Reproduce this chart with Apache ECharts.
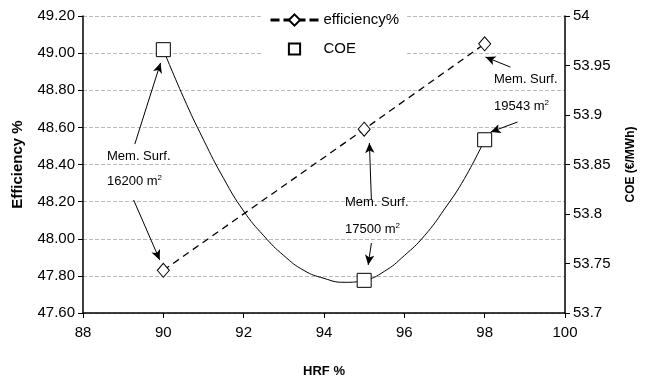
<!DOCTYPE html>
<html>
<head>
<meta charset="utf-8">
<script src="https://cdn.jsdelivr.net/npm/echarts@6/dist/echarts.min.js"></script>
<style>
  html, body { margin: 0; padding: 0; background: #fff; }
  #chart { width: 645px; height: 383px; }
</style>
</head>
<body>
<div id="chart"></div>
<script>
// HRF points and the two measured series
const hrf = [90, 95, 98];
const efficiency = [47.83, 48.59, 49.05];
const coe = [53.966, 53.733, 53.875];

// COE trend curve
const coeCurveX = [90, 90.5, 91, 91.5, 92, 92.5, 93, 93.5, 94, 94.5, 95, 95.5, 96, 96.5, 97, 97.5, 98];
const coeCurveY = [53.966, 53.918, 53.875, 53.836, 53.803, 53.778, 53.758, 53.743, 53.735, 53.731,
                   53.733, 53.742, 53.758, 53.778, 53.805, 53.836, 53.875];

// annotation arrows, [tailX, tailY, headX, headY] in HRF / efficiency units
const arrows = [
  [89.29, 48.51, 89.93, 48.947],
  [89.26, 48.209, 89.91, 47.886],
  [95.18, 47.977, 95.10, 47.859],
  [95.18, 48.209, 95.13, 48.516],
  [98.64, 48.925, 98.02, 48.979],
  [98.82, 48.629, 98.15, 48.575]
];
const notes = ['16200', '17500', '19543'];

const chart = echarts.init(document.getElementById('chart'));
const font = 'Liberation Sans, Arial, sans-serif';

const noteText = (x, y, text) => ({
  type: 'text',
  left: x,
  top: y,
  z: 10,
  style: {
    text: text,
    font: '13px ' + font,
    fill: '#000',
    rich: {
      n: { fontSize: 13, fontFamily: font },
      sup: { fontSize: 8, fontFamily: font, verticalAlign: 'top', padding: [0, 0, 6, 0] }
    }
  }
});

const option = {
  backgroundColor: '#fff',
  animation: false,
  grid: { left: 83, right: 77, top: 16, bottom: 70 },
  legend: {
    orient: 'vertical',
    left: 261,
    top: 7,
    padding: [5, 8],
    backgroundColor: '#fff',
    itemWidth: 48,
    itemHeight: 14,
    itemGap: 13,
    z: 5,
    textStyle: { fontFamily: font, fontSize: 15, lineHeight: 16, color: '#000' },
    data: [
      { name: 'efficiency%', lineStyle: { width: 3, type: [9, 4] } },
      { name: 'COE' }
    ]
  },
  xAxis: {
    type: 'value',
    min: 88,
    max: 100,
    interval: 2,
    name: 'HRF %',
    nameLocation: 'middle',
    nameGap: 52,
    nameTextStyle: { fontFamily: font, fontSize: 13, fontWeight: 'bold', color: '#000' },
    axisLine: { lineStyle: { color: '#000', width: 1.5 } },
    axisTick: { show: true, length: 5, lineStyle: { color: '#000' } },
    axisLabel: { fontFamily: font, fontSize: 15, color: '#000', margin: 12 },
    splitLine: { show: false }
  },
  yAxis: [
    {
      type: 'value',
      min: 47.6,
      max: 49.2,
      interval: 0.2,
      name: 'Efficiency %',
      nameLocation: 'middle',
      nameGap: 58,
      nameTextStyle: { fontFamily: font, fontSize: 15, fontWeight: 'bold', color: '#000' },
      axisLine: { show: true, lineStyle: { color: '#000', width: 1.5 } },
      axisTick: { show: true, length: 5, lineStyle: { color: '#000' } },
      axisLabel: { fontFamily: font, fontSize: 15, color: '#000', formatter: v => v.toFixed(2) },
      splitLine: { show: true, lineStyle: { color: '#bbbbbb', width: 1, type: 'dashed' } }
    },
    {
      type: 'value',
      min: 53.7,
      max: 54,
      interval: 0.05,
      position: 'right',
      name: 'COE (€/MWh)',
      nameLocation: 'middle',
      nameGap: 60,
      nameTextStyle: { fontFamily: font, fontSize: 12, fontWeight: 'bold', color: '#000' },
      axisLine: { show: true, lineStyle: { color: '#000', width: 1.5 } },
      axisTick: { show: true, length: 5, lineStyle: { color: '#000' } },
      axisLabel: { fontFamily: font, fontSize: 15, color: '#000' },
      splitLine: { show: false }
    }
  ],
  series: [
    {
      name: 'COE trend',
      type: 'line',
      yAxisIndex: 1,
      smooth: true,
      showSymbol: false,
      silent: true,
      lineStyle: { color: '#000', width: 1 },
      data: coeCurveX.map((x, i) => [x, coeCurveY[i]]),
      z: 2
    },
    {
      name: 'efficiency%',
      type: 'line',
      yAxisIndex: 0,
      symbol: 'diamond',
      symbolSize: [12, 14],
      itemStyle: { color: '#fff', borderColor: '#000', borderWidth: 1 },
      lineStyle: { color: '#000', width: 1.3, type: [7, 5] },
      data: hrf.map((x, i) => [x, efficiency[i]]),
      markLine: {
        silent: true,
        symbol: ['none', 'arrow'],
        symbolSize: [7, 10],
        label: { show: false },
        lineStyle: { color: '#000', width: 1, type: 'solid' },
        data: arrows.map(a => [{ coord: [a[0], a[1]] }, { coord: [a[2], a[3]] }])
      },
      z: 3
    },
    {
      name: 'COE',
      type: 'line',
      yAxisIndex: 1,
      symbol: 'rect',
      symbolSize: 14,
      itemStyle: { color: '#fff', borderColor: '#000', borderWidth: 1 },
      lineStyle: { width: 0, opacity: 0 },
      data: hrf.map((x, i) => [x, coe[i]]),
      z: 4
    }
  ],
  graphic: [
    noteText(107, 150, 'Mem. Surf.'),
    noteText(107, 174, '{n|' + notes[0] + ' m}{sup|2}'),
    noteText(345, 196, 'Mem. Surf.'),
    noteText(345, 222, '{n|' + notes[1] + ' m}{sup|2}'),
    noteText(494, 73, 'Mem. Surf.'),
    noteText(494, 99, '{n|' + notes[2] + ' m}{sup|2}')
  ]
};

chart.setOption(option);
</script>
</body>
</html>
